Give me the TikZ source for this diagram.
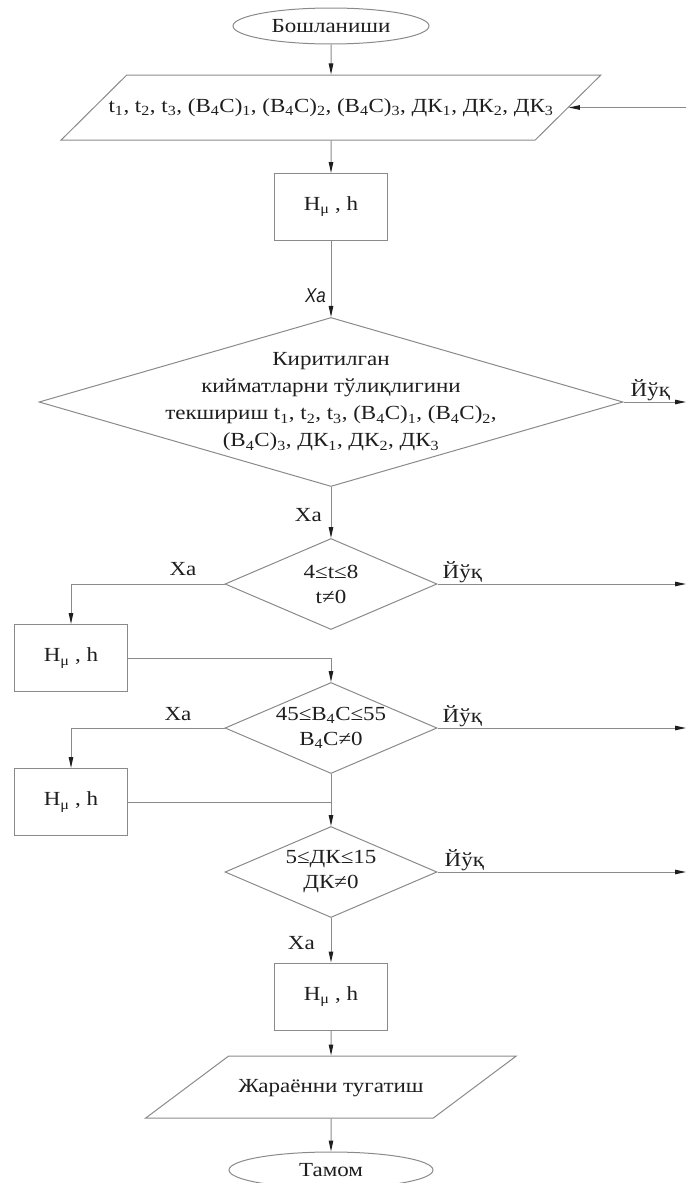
\documentclass[tikz,border=0pt]{standalone}
\usepackage{fontspec}
\setmainfont{Liberation Serif}[FakeStretch=1.15]
\newfontfamily\cadfont[FakeStretch=0.85]{Liberation Sans}
\usetikzlibrary{arrows.meta,positioning,shapes.geometric}
\definecolor{edge}{HTML}{8A8A8A}
\definecolor{ink}{HTML}{1E1E1E}
\tikzset{
  base/.style ={draw=edge, line width=1pt, text=ink, align=center, inner sep=0pt,
                font=\fontsize{20}{27}\selectfont},
  term/.style ={base, ellipse, minimum width=196pt, minimum height=36pt},
  io/.style   ={base, trapezium, trapezium left angle=45, trapezium right angle=135,
                trapezium stretches=true, text height=15pt, text depth=5pt, inner xsep=-20pt},
  proc/.style ={base, rectangle, minimum width=113pt, minimum height=67pt},
  test/.style ={base, diamond, aspect=2.36, minimum width=212pt, minimum height=91pt,
                font=\fontsize{20}{25}\selectfont},
  fl/.style   ={draw=edge, line width=1pt, -{Triangle[length=11pt,width=4.5pt,ink]}},
  ln/.style   ={draw=edge, line width=1pt},
  w/.style    ={font=\fontsize{20}{24}\selectfont, text=ink, inner sep=1pt},
}
\newcommand{\ix}[1]{\textsubscript{#1}}
\newcommand{\boron}{B\ix{4}C}

\begin{document}
\begin{tikzpicture}[x=1pt,y=-1pt]
  \useasboundingbox (0,0) rectangle (686,1183);
  \coordinate (rim) at (686,0);
  \node[term] (start) at (331,26) {Бошланиши};
  \node[io, inner ysep=22.5pt, minimum width=542pt] (inp) at (331,107.5)
        {t\ix{1}, t\ix{2}, t\ix{3}, (\boron)\ix{1}, (\boron)\ix{2}, (\boron)\ix{3}, ДК\ix{1}, ДК\ix{2}, ДК\ix{3}};
  \node[proc] (h0) at (331,207) {H\ix{μ} , h};
  \node[test, aspect=3.46, minimum width=584pt, minimum height=169pt,
        inner xsep=-10pt, inner ysep=-12pt, font=\fontsize{20}{27}\selectfont] (chk) at (331,402)
        {Киритилган\\кийматларни тўлиқлигини\\текшириш t\ix{1}, t\ix{2}, t\ix{3}, (\boron)\ix{1}, (\boron)\ix{2},\\(\boron)\ix{3}, ДК\ix{1}, ДК\ix{2}, ДК\ix{3}};
  \node[test] (t1) at (331,584) {4≤t≤8\\t≠0};
  \node[proc] (h1) at (71,658) {H\ix{μ} , h};
  \node[test] (t2) at (331,728) {45≤\boron≤55\\\boron≠0};
  \node[proc] (h2) at (71,802) {H\ix{μ} , h};
  \node[test] (t3) at (331,872) {5≤ДК≤15\\ДК≠0};
  \node[proc] (h3) at (331,996.5) {H\ix{μ} , h};
  \node[io, trapezium left angle=46.5, trapezium right angle=133.5,
        inner ysep=21pt, minimum width=371pt] (out) at (331,1087) {Жараённи тугатиш};
  \node[term, minimum width=204pt] (stop) at (331,1170) {Тамом};

  % main column
  \draw[fl] (start) -- (inp);
  \draw[fl] (inp) -- (h0);
  \draw[fl] (h0) -- (chk);
  \node[w, anchor=east] (xa0) at (327,296) {\cadfont\itshape Ха};
  \draw[fl] (chk) -- (t1);
  \node[w, anchor=east] (xa1) at (323,515) {Ха};
  \draw[fl] (t1.west) -| (h1.north);
  \node[w] (xa2) at (183,569) {Ха};
  \draw[fl] (h1.east) -| (t2.north);
  \draw[fl] (t2.west) -| (h2.north);
  \node[w] (xa3) at (178,714) {Ха};
  \draw[ln] (h2.east) -- (h2.east -| t2.south);
  \draw[fl] (t2.south) -- (t3.north);
  \draw[fl] (t3) -- (h3);
  \node[w, anchor=east] (xa4) at (316,943) {Ха};
  \draw[fl] (h3) -- (out);
  \draw[fl] (out) -- (stop);

  % exits to the right edge and the return into the input
  \draw[fl] (chk.east) -- (chk.east -| rim);
  \node[w, above right=0pt and 6pt of chk.east] (no0) {Йўқ};
  \draw[fl] (t1.east) -- (t1.east -| rim);
  \node[w, above right=0pt and 4pt of t1.east] (no1) {Йўқ};
  \draw[fl] (t2.east) -- (t2.east -| rim);
  \node[w, above right=0pt and 4pt of t2.east] (no2) {Йўқ};
  \draw[fl] (t3.east) -- (t3.east -| rim);
  \node[w, above right=0pt and 6pt of t3.east] (no3) {Йўқ};
  \draw[fl] (inp.east -| rim) -- (inp.east);
\end{tikzpicture}
\end{document}
